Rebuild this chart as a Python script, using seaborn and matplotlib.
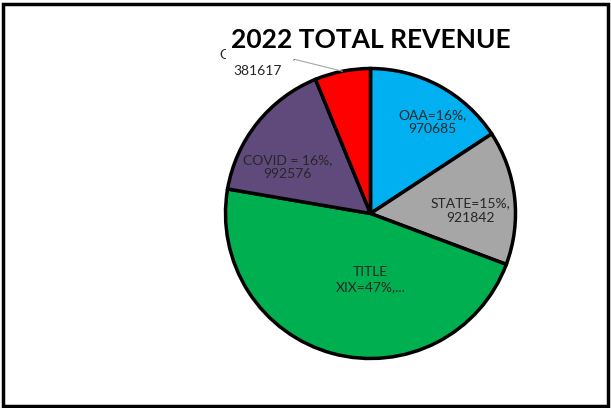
import matplotlib
matplotlib.use("Agg")
import matplotlib.pyplot as plt
import numpy as np
import seaborn as sns
from matplotlib.patches import Rectangle

# Dados do gráfico
categorias = ["OAA", "STATE", "TITLE XIX", "COVID", "OTHER"]
valores = [970685, 921842, 2896896, 992576, 381617]
rotulos = ["OAA=16%,\n970685", "STATE=15%,\n921842", "TITLE\nXIX=47%,...",
           "COVID = 16%,\n992576", "OTHER=6%,\n381617"]
cores = ["#00B0F0", "#A6A6A6", "#00B050", "#604A7B", "#FF0000"]

# posições dos rótulos (unidades do raio)
pos_rotulos = [(0.43, 0.63), (0.69, 0.02), (0.0, -0.455), (-0.57, 0.32), (-0.78, 1.04)]
espacos = [1.25, 1.25, 1.25, 1.25, 1.45]

sns.set_style("white")
plt.rcParams["font.family"] = ["Lato", "DejaVu Sans"]

W, H = 611, 408
fig = plt.figure(figsize=(W / 100, H / 100), dpi=100)
fig.patches.append(Rectangle((3 / W, 2 / H), 605 / W, 402 / H,
                             transform=fig.transFigure, fill=False,
                             edgecolor="black", linewidth=2.5))

cx, cy, r = 370.5, 213.5, 145
ax = fig.add_axes([(cx - r) / W, (H - cy - r) / H, 2 * r / W, 2 * r / H])

wedges, _ = ax.pie(valores, colors=cores, startangle=90, counterclock=False,
                   wedgeprops=dict(edgecolor="black", linewidth=2.5))
for w in wedges:
    w.set_clip_on(False)
ax.set_xlim(-1, 1)
ax.set_ylim(-1, 1)
ax.set_aspect("equal")
ax.axis("off")

for (x, y), txt, ls in zip(pos_rotulos, rotulos, espacos):
    ax.text(x, y, txt, ha="center", va="center", fontsize=10,
            color="#262626", linespacing=ls)

# linha guia do rótulo da fatia vermelha
w = wedges[-1]
ang = np.deg2rad((w.theta1 + w.theta2) / 2)
ax.plot([-0.53, np.cos(ang)], [1.065, np.sin(ang)], color="#A6A6A6",
        linewidth=0.8, clip_on=False)

# caixa branca do título (cobre parte do rótulo, como no original)
fig.patches.append(Rectangle((226 / W, 1 - 59 / H), 289 / W, 39 / H,
                             transform=fig.transFigure, facecolor="white",
                             edgecolor="none", zorder=9))
fig.text(371 / W, 1 - 40 / H, "2022 TOTAL REVENUE", ha="center", va="center",
         fontsize=19, fontweight="bold", color="black", zorder=10)

fig.savefig("out.png", dpi=100)
